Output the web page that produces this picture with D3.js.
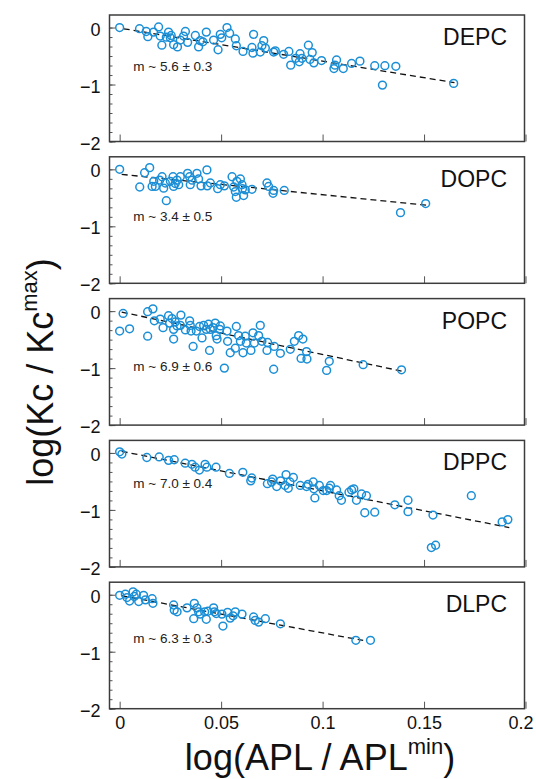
<!DOCTYPE html>
<html>
<head>
<meta charset="utf-8">
<script src="https://cdn.jsdelivr.net/npm/d3@7"></script>
<style>
body { margin: 0; background: #fff; }
svg { display: block; font-family: "Liberation Sans", Arial, sans-serif; }
</style>
</head>
<body>
<svg id="chart" width="536" height="779"></svg>
<script>
// panel names, fit text and fit line params (top to bottom)
var lipids = ['DEPC', 'DOPC', 'POPC', 'DPPC', 'DLPC'];
var slopeLabels = ['m ~ 5.6 \u00b1 0.3', 'm ~ 3.4 \u00b1 0.5', 'm ~ 6.9 \u00b1 0.6', 'm ~ 7.0 \u00b1 0.4', 'm ~ 6.3 \u00b1 0.3'];
var fitIntercepts = [-0.01, -0.085, -0.01, 0.035, -0.01];
var fitSlopes = [-5.8, -3.6, -7.5, -7.0, -6.6];
var fitRanges = [[0.002, 0.165], [0.001, 0.151], [0.001, 0.139], [0.001, 0.192], [0.001, 0.12]];
var xTicks = [0, 0.05, 0.1, 0.15, 0.2];
var yTicks = [0, -1, -2];

// log(APL/APLmin), log(Kc/Kcmax)
var depc = [[0,0],[0.0098,-0.02],[0.0131,-0.07],[0.0139,-0.16],[0.0167,-0.08],[0.0192,0.01],[0.02,-0.15],[0.0208,-0.31],
  [0.023,-0.17],[0.0241,-0.08],[0.025,-0.18],[0.0254,-0.14],[0.0266,-0.30],[0.0285,-0.34],[0.0299,-0.22],[0.0315,-0.15],
  [0.0324,-0.07],[0.0335,-0.26],[0.0373,-0.14],[0.0389,-0.34],[0.0397,-0.23],[0.041,-0.25],[0.0427,-0.08],[0.0463,-0.22],
  [0.0485,-0.39],[0.0496,-0.12],[0.0503,-0.18],[0.0529,0.0],[0.0542,-0.10],[0.057,-0.2],[0.0575,-0.32],[0.0608,-0.42],
  [0.0652,-0.35],[0.0657,-0.45],[0.066,-0.12],[0.0693,-0.43],[0.0701,-0.32],[0.071,-0.23],[0.0718,-0.36],[0.0759,-0.43],
  [0.0767,-0.41],[0.0808,-0.47],[0.0834,-0.42],[0.0843,-0.66],[0.0868,-0.54],[0.0885,-0.6],[0.0889,-0.46],[0.0898,-0.54],
  [0.093,-0.31],[0.0938,-0.56],[0.0949,-0.44],[0.0957,-0.62],[0.0995,-0.58],[0.1056,-0.72],[0.1061,-0.66],[0.1069,-0.57],
  [0.1102,-0.72],[0.1143,-0.63],[0.1184,-0.59],[0.1257,-0.67],[0.1295,-1.01],[0.1307,-0.67],[0.1361,-0.68],[0.1646,-0.98]];

var dopc = [[0,0],[0.0099,-0.31],[0.0123,-0.06],[0.0148,0.03],[0.016,-0.30],[0.0176,-0.30],[0.0168,-0.21],[0.0197,-0.19],
  [0.0209,-0.13],[0.0217,-0.33],[0.023,-0.55],[0.0225,-0.24],[0.025,-0.21],[0.0263,-0.13],[0.0266,-0.30],[0.0274,-0.25],
  [0.0283,-0.19],[0.0291,-0.27],[0.0299,-0.13],[0.0335,-0.07],[0.0345,-0.13],[0.0348,-0.27],[0.0357,-0.19],[0.0381,-0.07],
  [0.0389,-0.17],[0.0401,-0.29],[0.043,-0.01],[0.0432,-0.29],[0.0447,-0.24],[0.0483,-0.34],[0.0496,-0.27],[0.0516,-0.29],
  [0.0554,-0.13],[0.0562,-0.31],[0.057,-0.39],[0.0575,-0.49],[0.0578,-0.21],[0.0595,-0.17],[0.0603,-0.27],[0.0605,-0.34],
  [0.0611,-0.46],[0.0619,-0.36],[0.0652,-0.35],[0.0726,-0.24],[0.0734,-0.30],[0.0756,-0.42],[0.0759,-0.37],[0.0811,-0.37],
  [0.1384,-0.76],[0.1508,-0.60]];

var popc = [[0,-0.35],[0.0017,-0.04],[0.0049,-0.31],[0.0138,-0.44],[0.0138,-0.01],[0.0164,0.04],[0.0171,-0.17],[0.02,-0.14],
  [0.0214,-0.29],[0.0241,-0.08],[0.0246,-0.21],[0.0258,-0.13],[0.0266,-0.32],[0.0266,-0.49],[0.0274,-0.19],[0.0283,-0.26],
  [0.0302,-0.07],[0.0299,-0.25],[0.0324,-0.33],[0.0345,-0.17],[0.0348,-0.25],[0.0352,-0.35],[0.0362,-0.62],[0.0378,-0.35],
  [0.0394,-0.27],[0.0406,-0.47],[0.0414,-0.25],[0.0427,-0.32],[0.0438,-0.23],[0.0443,-0.69],[0.0447,-0.32],[0.046,-0.29],
  [0.0471,-0.21],[0.0476,-0.43],[0.048,-0.49],[0.0493,-0.32],[0.0496,-0.26],[0.0516,-1.0],[0.0529,-0.35],[0.0532,-0.53],
  [0.0545,-0.73],[0.0575,-0.27],[0.057,-0.65],[0.0586,-0.43],[0.0595,-0.53],[0.0608,-0.73],[0.0619,-0.44],[0.0624,-0.56],
  [0.0647,-0.69],[0.0657,-0.38],[0.0664,-0.56],[0.0685,-0.43],[0.0693,-0.25],[0.0701,-0.53],[0.0726,-0.69],[0.0729,-0.55],
  [0.0759,-1.02],[0.0762,-0.62],[0.0792,-0.74],[0.0841,-0.67],[0.0861,-0.53],[0.0882,-0.43],[0.0894,-0.83],[0.0903,-0.49],
  [0.0921,-0.71],[0.0923,-0.84],[0.102,-1.04],[0.1033,-0.88],[0.12,-0.94],[0.1389,-1.03]];

var dppc = [[0,0.02],[0.0011,-0.02],[0.0134,-0.08],[0.0195,-0.07],[0.0241,-0.13],[0.0269,-0.12],[0.0323,-0.18],[0.0356,-0.2],
  [0.0372,-0.25],[0.0393,-0.30],[0.0421,-0.20],[0.043,-0.25],[0.0475,-0.25],[0.0541,-0.36],[0.0607,-0.34],[0.0646,-0.49],
  [0.0651,-0.44],[0.0728,-0.54],[0.0749,-0.51],[0.0754,-0.46],[0.0774,-0.59],[0.0793,-0.49],[0.0815,-0.57],[0.082,-0.38],
  [0.0831,-0.62],[0.0839,-0.51],[0.0856,-0.43],[0.089,-0.57],[0.0921,-0.59],[0.0929,-0.55],[0.0954,-0.51],[0.0957,-0.63],
  [0.0962,-0.79],[0.0984,-0.57],[0.1003,-0.66],[0.102,-0.66],[0.1033,-0.62],[0.1039,-0.57],[0.1069,-0.65],[0.1082,-0.75],
  [0.1093,-0.83],[0.113,-0.69],[0.1143,-0.65],[0.1154,-0.63],[0.1167,-0.83],[0.1192,-0.72],[0.1208,-1.05],[0.1216,-0.75],
  [0.1257,-1.04],[0.1356,-0.91],[0.1421,-0.83],[0.1421,-1.03],[0.1544,-1.09],[0.1536,-1.66],[0.1557,-1.62],[0.1733,-0.75],
  [0.1885,-1.21],[0.1913,-1.17]];

var dlpc = [[0,-0.01],[0.0028,0.01],[0.0036,-0.05],[0.0049,-0.11],[0.0066,0.05],[0.0072,-0.03],[0.0082,0.01],[0.0094,-0.12],
  [0.0118,-0.01],[0.0127,-0.09],[0.016,-0.07],[0.0164,-0.15],[0.0266,-0.18],[0.0269,-0.27],[0.0283,-0.30],[0.0332,-0.23],
  [0.0368,-0.15],[0.0365,-0.42],[0.0381,-0.23],[0.0389,-0.30],[0.0397,-0.34],[0.0419,-0.30],[0.0427,-0.43],[0.0435,-0.29],
  [0.0463,-0.23],[0.0467,-0.30],[0.0476,-0.33],[0.0509,-0.55],[0.0504,-0.34],[0.0532,-0.31],[0.0545,-0.41],[0.0559,-0.37],
  [0.057,-0.30],[0.0603,-0.34],[0.066,-0.39],[0.0668,-0.45],[0.0685,-0.48],[0.0718,-0.42],[0.0792,-0.51],[0.1164,-0.80],
  [0.1236,-0.80]];

var points = [depc, dopc, popc, dppc, dlpc];
// where the slope text sits, in y data units
var slopeLabelY = [-0.76, -0.90, -1.05, -0.62, -0.84];

var svg = d3.select('#chart');
var left = 109.5, right = 524.5, top0 = 15, panelH = 126.5, step = 141.8;
var blue = '#1b8fd6';

var x = d3.scaleLinear().domain([-0.005, 0.1995]).range([left, right]);

lipids.forEach(function(name, i) {
  var top = top0 + i * step;
  var y = d3.scaleLinear().domain([-2, 0.22]).range([top + panelH, top]);
  var g = svg.append('g');

  g.append('rect').attr('x', left).attr('y', top).attr('width', right - left).attr('height', panelH)
    .attr('fill', '#fff');

  // minor y ticks
  var minor = d3.range(-12, 1).map(function(k) { return k / 6; });
  g.append('g').attr('transform', 'translate(' + left + ',0)')
    .call(d3.axisLeft(y).tickValues(minor).tickSize(-3).tickFormat(''))
    .call(function(s) { s.select('.domain').remove(); s.selectAll('line').attr('stroke', '#555'); });

  var ya = g.append('g').attr('transform', 'translate(' + left + ',0)')
    .call(d3.axisLeft(y).tickValues(yTicks).tickSize(-6).tickPadding(9).tickFormat(d3.format('d')));
  ya.select('.domain').remove();
  ya.selectAll('line').attr('stroke', '#555');
  ya.selectAll('text').attr('font-size', 18).attr('fill', '#111').attr('dy', '0.42em')
    .style('font-family', '"Liberation Sans", Arial, sans-serif');

  var xa = g.append('g').attr('transform', 'translate(0,' + (top + panelH) + ')')
    .call(d3.axisBottom(x).tickValues(xTicks).tickSize(-7).tickPadding(8)
      .tickFormat(i === lipids.length - 1 ? function(d) { return String(d); } : ''));
  xa.select('.domain').remove();
  xa.selectAll('line').attr('stroke', '#555');
  xa.selectAll('text').attr('font-size', 18).attr('fill', '#111')
    .attr('dx', function(d) { return d === 0.2 ? -5 : 0; })
    .style('font-family', '"Liberation Sans", Arial, sans-serif');

  // fit line
  var fr = fitRanges[i];
  var line = d3.line().x(function(d) { return x(d); })
    .y(function(d) { return y(fitIntercepts[i] + fitSlopes[i] * d); });
  g.append('path').datum(fr).attr('d', line).attr('fill', 'none')
    .attr('stroke', '#111').attr('stroke-width', 1.3).attr('stroke-dasharray', '6,4');

  g.selectAll('circle.pt').data(points[i]).enter().append('circle')
    .attr('class', 'pt')
    .attr('cx', function(d) { return x(d[0]); })
    .attr('cy', function(d) { return y(d[1]); })
    .attr('r', 3.9)
    .attr('fill', 'none')
    .attr('stroke', blue)
    .attr('stroke-width', 1.5);

  g.append('text').attr('x', 507).attr('y', top + 30).attr('text-anchor', 'end')
    .attr('font-size', 23).attr('fill', '#111').text(name);

  g.append('text').attr('x', 133.3).attr('y', y(slopeLabelY[i])).attr('font-size', 13.5)
    .attr('fill', '#222').text(slopeLabels[i]);

  g.append('rect').attr('x', left).attr('y', top).attr('width', right - left).attr('height', panelH)
    .attr('fill', 'none').attr('stroke', '#3c3c3c').attr('stroke-width', 1.5);
});

// axis titles
var xt = svg.append('text').attr('x', 320).attr('y', 770).attr('text-anchor', 'middle')
  .attr('font-size', 36).attr('fill', '#111');
xt.append('tspan').text('log(APL / APL');
xt.append('tspan').attr('font-size', 22).attr('dy', -16).text('min');
xt.append('tspan').attr('dy', 16).text(')');

var yt = svg.append('text').attr('transform', 'translate(53,372) rotate(-90)').attr('text-anchor', 'middle')
  .attr('font-size', 36).attr('fill', '#111');
yt.append('tspan').text('log(Kc / Kc');
yt.append('tspan').attr('font-size', 22).attr('dy', -16).text('max');
yt.append('tspan').attr('dy', 16).text(')');
</script>
</body>
</html>
